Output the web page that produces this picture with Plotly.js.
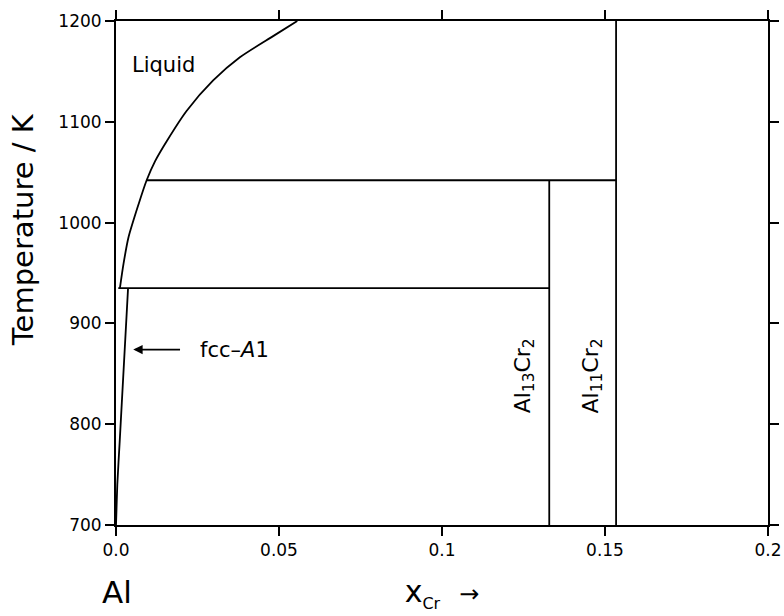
<!DOCTYPE html>
<html>
<head>
<meta charset="utf-8">
<script src="https://cdn.plot.ly/plotly-3.0.1.min.js"></script>
<style>html,body{margin:0;padding:0;background:#fff;}#chart{width:784px;height:616px;}</style>
</head>
<body>
<div id="chart"></div>
<script>
// Liquidus (Al-rich side)
const liquidusX = [0.0012, 0.0023, 0.0038, 0.0069, 0.0094, 0.0120, 0.0156, 0.0217, 0.0298, 0.0380, 0.0482, 0.0556];
const liquidusT = [935, 959, 985, 1018, 1042, 1061, 1081, 1111, 1141, 1164, 1185, 1200];
// fcc-A1 solvus / solidus
const fccX = [0.0, 0.0001, 0.0004, 0.0011, 0.0037];
const fccT = [700, 710, 740, 781, 935];
// Invariant (peritectic) horizontals
const invariantT = [935, 1042];
const invariantXStart = [0.0007, 0.0094];
const invariantXEnd = [0.1329, 0.1534];
// Stoichiometric compounds
const compoundX = [0.1329, 0.1534];
const compoundTop = [1042, 1200];
const compoundBottom = [700, 700];
const compoundNames = ['Al<sub>13</sub>Cr<sub>2</sub>', 'Al<sub>11</sub>Cr<sub>2</sub>'];
const compoundLabelX = [0.1253, 0.1462];
const compoundLabelT = [848, 848];
// Ticks
const xTickVals = [0, 0.05, 0.1, 0.15, 0.2];
const xTickText = ['0.0', '0.05', '0.1', '0.15', '0.2'];
const yTickVals = [700, 800, 900, 1000, 1100, 1200];
const yTickText = ['700', '800', '900', '1000', '1100', '1200'];

const FONT = 'DejaVu Sans, Arial, sans-serif';
const lineStyle = {color: '#000', width: 1.8};
const traces = [];
traces.push({x: liquidusX, y: liquidusT, mode: 'lines', line: {color: '#000', width: 1.8, shape: 'spline', smoothing: 0.7}, name: 'Liquidus'});
traces.push({x: fccX, y: fccT, mode: 'lines', line: {color: '#000', width: 1.8, shape: 'spline', smoothing: 0.6}, name: 'fcc-A1'});
for (let i = 0; i < invariantT.length; i++) {
  traces.push({x: [invariantXStart[i], invariantXEnd[i]], y: [invariantT[i], invariantT[i]],
    mode: 'lines', line: lineStyle, name: 'Invariant ' + invariantT[i] + ' K'});
}
for (let i = 0; i < compoundX.length; i++) {
  traces.push({x: [compoundX[i], compoundX[i]], y: [compoundBottom[i], compoundTop[i]],
    mode: 'lines', line: lineStyle, name: compoundNames[i]});
}

const annotations = [
  {x: 0.0147, y: 1156, xref: 'x', yref: 'y', text: 'Liquid', showarrow: false,
   font: {family: FONT, size: 21, color: '#000'}, xanchor: 'center', yanchor: 'middle'},
  {x: 0.0053, y: 874, xref: 'x', yref: 'y', ax: 0.0201, ay: 874, axref: 'x', ayref: 'y',
   text: '', showarrow: true, arrowhead: 2, arrowsize: 1.1, arrowwidth: 1.7, arrowcolor: '#000'},
  {x: 0.0252, y: 874, xref: 'x', yref: 'y', text: 'fcc\u2013<i>A</i>1', showarrow: false,
   font: {family: FONT, size: 21, color: '#000'}, xanchor: 'left', yanchor: 'middle'},
  {x: -0.1426, y: 0.585, xref: 'paper', yref: 'paper', text: 'Temperature / K', showarrow: false,
   textangle: -90, font: {family: FONT, size: 29, color: '#000'}, xanchor: 'center', yanchor: 'middle'},
  {x: 0.0023, y: -0.133, xref: 'paper', yref: 'paper', text: 'Al', showarrow: false,
   font: {family: FONT, size: 31, color: '#000'}, xanchor: 'center', yanchor: 'middle'}
];
for (let i = 0; i < compoundNames.length; i++) {
  annotations.push({x: compoundLabelX[i], y: compoundLabelT[i], xref: 'x', yref: 'y',
    text: compoundNames[i], showarrow: false, textangle: -90,
    font: {family: FONT, size: 22, color: '#000'}, xanchor: 'center', yanchor: 'middle'});
}

const axisCommon = {
  showgrid: false, zeroline: false, showline: true, linecolor: '#000', linewidth: 2,
  mirror: 'allticks', ticks: 'outside', ticklen: 9, tickwidth: 2, tickcolor: '#000',
  tickfont: {family: FONT, size: 17, color: '#000'}
};

const layout = {
  width: 784, height: 616,
  margin: {l: 116, r: 16, t: 21, b: 91, pad: 0},
  paper_bgcolor: '#fff', plot_bgcolor: '#fff',
  showlegend: false,
  font: {family: FONT, color: '#000'},
  xaxis: Object.assign({}, axisCommon, {
    range: [0, 0.2], tickmode: 'array', tickvals: xTickVals, ticktext: xTickText,
    title: {text: 'x<sub><span style="font-size:16px">Cr</span></sub>  <span style="font-size:24px">\u2192</span>',
      font: {family: FONT, size: 30, color: '#000'}, standoff: 22}
  }),
  yaxis: Object.assign({}, axisCommon, {
    range: [700, 1200], tickmode: 'array', tickvals: yTickVals, ticktext: yTickText
  }),
  annotations: annotations
};

Plotly.newPlot('chart', traces, layout, {displayModeBar: false, staticPlot: true});
</script>
</body>
</html>
